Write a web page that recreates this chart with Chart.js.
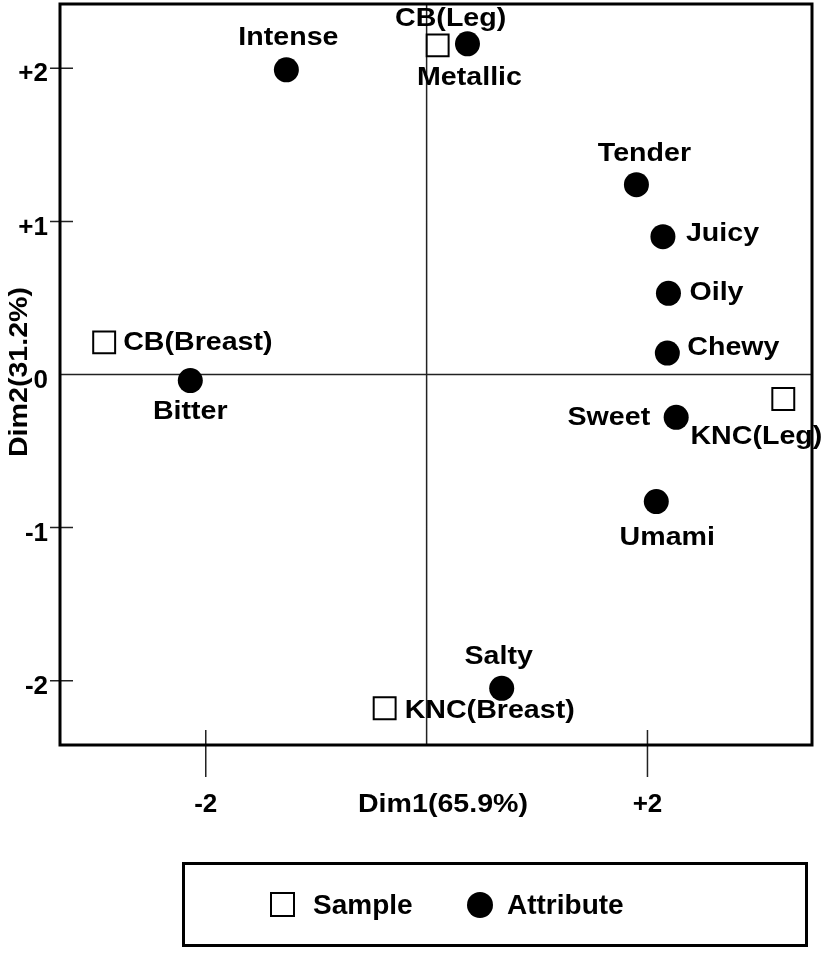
<!DOCTYPE html>
<html>
<head>
<meta charset="utf-8">
<script src="https://cdn.jsdelivr.net/npm/chart.js@4.4.1/dist/chart.umd.min.js"></script>
<style>
    body { margin: 0; background: #fff; }
    .wrap { position: relative; width: 827px; height: 953px; }
    #biplot { position: absolute; left: 0; top: 0; }
    .legend {
        position: absolute; left: 182px; top: 862px;
        width: 620px; height: 79px;
        border: 3px solid #000;
        font: bold 28px 'Liberation Sans', Arial, sans-serif;
        color: #000;
    }
    .legend .item { position: absolute; top: 0; height: 79px; line-height: 79px; }
    .legend .sq {
        position: absolute; left: 85px; top: 27px; width: 25px; height: 25px;
        border: 2px solid #000; box-sizing: border-box; background: #fff;
    }
    .legend .dot {
        position: absolute; left: 282px; top: 27px; width: 26px; height: 26px;
        border-radius: 50%; background: #000;
    }
</style>
</head>
<body>
<div class="wrap">
    <canvas id="biplot" width="827" height="953"></canvas>
    <div class="legend">
        <span class="sq"></span><span class="item" style="left:128px">Sample</span>
        <span class="dot"></span><span class="item" style="left:322px">Attribute</span>
    </div>
</div>
<script>
// ===== Data =====
const sampleNames = ['CB(Leg)', 'CB(Breast)', 'KNC(Leg)', 'KNC(Breast)'];
const sampleDim1 = [0.10, -2.92, 3.23, -0.38];
const sampleDim2 = [2.15, 0.21, -0.16, -2.18];

const attributeNames = ['Intense', 'Metallic', 'Tender', 'Juicy', 'Oily', 'Chewy', 'Bitter', 'Sweet', 'Umami', 'Salty'];
const attributeDim1 = [-1.27, 0.37, 1.90, 2.14, 2.19, 2.18, -2.14, 2.26, 2.08, 0.68];
const attributeDim2 = [1.99, 2.16, 1.24, 0.90, 0.53, 0.14, -0.04, -0.28, -0.83, -2.05];

const xTickValues = [-2, 2];
const yTickValues = [-2, -1, 0, 1, 2];

// label anchor: [align, dx, dy] from the marker centre
const labelPlacement = {
    'CB(Leg)': ['center', 13, -27],
    'CB(Breast)': ['left', 19, 0],
    'KNC(Leg)': ['right', 39, 38],
    'KNC(Breast)': ['left', 20, 3],
    'Intense': ['center', 2, -32],
    'Metallic': ['center', 2, 34],
    'Tender': ['center', 8, -31],
    'Juicy': ['left', 23, -3],
    'Oily': ['left', 21, -1],
    'Chewy': ['left', 20, -5],
    'Bitter': ['center', 0, 31],
    'Sweet': ['right', -26, 0],
    'Umami': ['center', 11, 36],
    'Salty': ['center', -3, -32]
};

const FONT = "'Liberation Sans', Arial, sans-serif";
const STRETCH = 1.1;

function wideText(ctx, text, x, y, align, rotate) {
    ctx.save();
    ctx.translate(x, y);
    if (rotate) ctx.rotate(-Math.PI / 2);
    ctx.scale(STRETCH, 1);
    ctx.textAlign = align;
    ctx.textBaseline = 'middle';
    ctx.fillText(text, 0, 0);
    ctx.restore();
}

const toPoints = (xs, ys) => xs.map((x, i) => ({ x, y: ys[i] }));

// Frame, zero lines and tick marks crossing the frame
const framePlugin = {
    id: 'frame',
    beforeDatasetsDraw(chart) {
        const { ctx, chartArea: a, scales: { x, y } } = chart;
        ctx.save();
        ctx.strokeStyle = '#222';
        ctx.lineWidth = 1.5;
        const x0 = x.getPixelForValue(0);
        const y0 = y.getPixelForValue(0);
        ctx.beginPath();
        ctx.moveTo(x0, a.top); ctx.lineTo(x0, a.bottom);
        ctx.moveTo(a.left, y0); ctx.lineTo(a.right, y0);
        xTickValues.forEach(v => {
            const px = x.getPixelForValue(v);
            ctx.moveTo(px, a.bottom - 15); ctx.lineTo(px, a.bottom + 32);
        });
        yTickValues.filter(v => v !== 0).forEach(v => {
            const py = y.getPixelForValue(v);
            ctx.moveTo(a.left - 10, py); ctx.lineTo(a.left + 13, py);
        });
        ctx.stroke();
        ctx.strokeStyle = '#000';
        ctx.lineWidth = 3;
        ctx.strokeRect(a.left, a.top, a.right - a.left, a.bottom - a.top);
        ctx.restore();
    },
    afterDatasetsDraw(chart) {
        const { ctx, chartArea: a } = chart;
        ctx.save();
        ctx.fillStyle = '#000';
        ctx.font = 'bold 26px ' + FONT;
        chart.data.datasets.forEach((ds, di) => {
            chart.getDatasetMeta(di).data.forEach((pt, i) => {
                const name = ds.names[i];
                const [align, dx, dy] = labelPlacement[name];
                wideText(ctx, name, pt.x + dx, pt.y + dy, align);
            });
        });
        // axis titles
        wideText(ctx, 'Dim1(65.9%)', 443, a.bottom + 60, 'center');
        wideText(ctx, 'Dim2(31.2%)', 20, 372, 'center', true);
        ctx.restore();
    }
};

const tickFont = { family: FONT, size: 26, weight: 'bold' };
const signed = v => (v > 0 ? '+' + v : String(v));
const noPad = s => { s.paddingTop = 0; s.paddingBottom = 0; s.paddingLeft = 0; s.paddingRight = 0; };

new Chart(document.getElementById('biplot'), {
    type: 'scatter',
    data: {
        datasets: [
            {
                label: 'Sample',
                names: sampleNames,
                data: toPoints(sampleDim1, sampleDim2),
                pointStyle: 'rect',
                pointRadius: 15.5,
                backgroundColor: '#fff',
                borderColor: '#000',
                borderWidth: 2
            },
            {
                label: 'Attribute',
                names: attributeNames,
                data: toPoints(attributeDim1, attributeDim2),
                pointStyle: 'circle',
                pointRadius: 12.5,
                backgroundColor: '#000',
                borderColor: '#000',
                borderWidth: 0
            }
        ]
    },
    options: {
        responsive: false,
        animation: false,
        devicePixelRatio: 1,
        layout: { autoPadding: false, padding: { top: 4, right: 15, left: 0, bottom: 0 } },
        plugins: {
            legend: { display: false },
            tooltip: { enabled: false }
        },
        scales: {
            x: {
                type: 'linear',
                min: -3.32,
                max: 3.49,
                grid: { display: false, drawTicks: false },
                border: { display: false },
                afterBuildTicks: s => { s.ticks = xTickValues.map(v => ({ value: v })); },
                afterFit: s => { s.height = 208; noPad(s); },
                ticks: { color: '#000', font: tickFont, padding: 44, callback: signed }
            },
            y: {
                type: 'linear',
                min: -2.42,
                max: 2.42,
                grid: { display: false, drawTicks: false },
                border: { display: false },
                afterBuildTicks: s => { s.ticks = yTickValues.map(v => ({ value: v })); },
                afterFit: s => { s.width = 60; noPad(s); },
                ticks: { color: '#000', font: tickFont, padding: 12, labelOffset: 6, callback: signed }
            }
        }
    },
    plugins: [framePlugin]
});
</script>
</body>
</html>
